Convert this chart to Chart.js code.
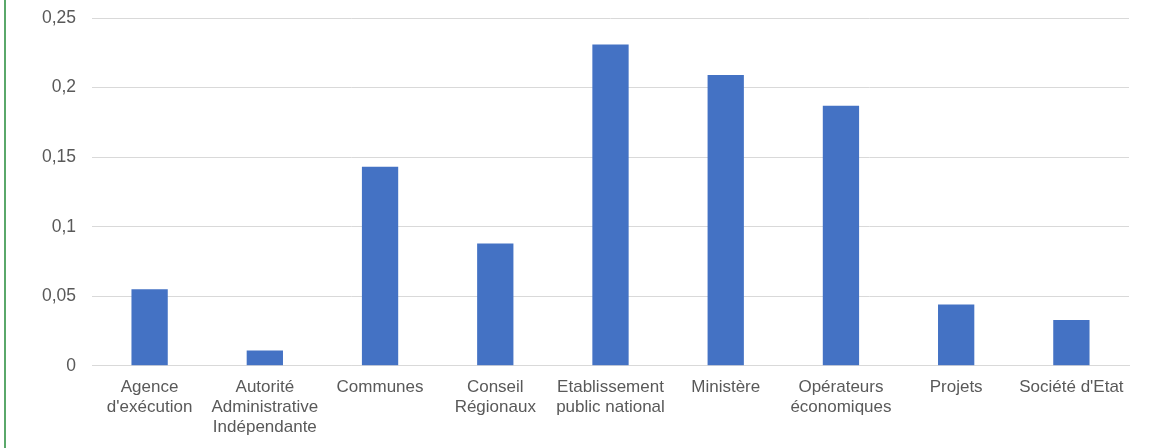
<!DOCTYPE html>
<html>
<head>
<meta charset="utf-8">
<script src="https://cdn.jsdelivr.net/npm/chart.js@4/dist/chart.umd.min.js"></script>
<style>
  html, body { margin: 0; padding: 0; background: #fff; }
  #wrap { position: relative; width: 1171px; height: 448px; }
  #frame { position: absolute; left: 4px; top: 0; width: 2px; height: 448px; background: #5aa86a; }
</style>
</head>
<body>
<div id="wrap">
  <div id="frame"></div>
  <canvas id="chartOrganismes" width="1171" height="448"></canvas>
</div>
<script>
// catégories (libellés sur plusieurs lignes comme dans l'original)
const categories = [
  ['Agence', "d'exécution"],
  ['Autorité', 'Administrative', 'Indépendante'],
  ['Communes'],
  ['Conseil', 'Régionaux'],
  ['Etablissement', 'public national'],
  ['Ministère'],
  ['Opérateurs', 'économiques'],
  ['Projets'],
  ["Société d'Etat"]
];

// valeurs
const valeurs = [0.055, 0.011, 0.143, 0.088, 0.231, 0.209, 0.187, 0.044, 0.033];

// graduations de l'axe vertical
const yMin = 0;
const yMax = 0.25;
const yPas = 0.05;

const police = { family: "'Liberation Sans', Arial, sans-serif", size: 17, lineHeight: 1.18 };

new Chart(document.getElementById('chartOrganismes'), {
  type: 'bar',
  data: {
    labels: categories,
    datasets: [{
      data: valeurs,
      backgroundColor: '#4472C4',
      borderWidth: 0,
      categoryPercentage: 1,
      barPercentage: 0.315
    }]
  },
  options: {
    responsive: false,
    animation: false,
    layout: { padding: { left: 10, right: 42, top: 18, bottom: 0 } },
    plugins: { legend: { display: false }, tooltip: { enabled: false } },
    scales: {
      x: {
        grid: { display: false, drawTicks: false },
        border: { display: true, color: '#d9d9d9', width: 1 },
        ticks: { color: '#595959', font: police, padding: 11, maxRotation: 0, autoSkip: false }
      },
      y: {
        min: yMin,
        max: yMax,
        afterFit: (s) => { s.width = 82; s.paddingTop = 0; s.paddingBottom = 0; },
        grid: { color: '#d9d9d9', drawTicks: false },
        border: { display: false },
        ticks: {
          stepSize: yPas,
          color: '#595959',
          font: { family: police.family, size: 17.5 },
          padding: 16,
          callback: (v) => String(Math.round(v * 100) / 100).replace('.', ',')
        }
      }
    }
  }
});
</script>
</body>
</html>
